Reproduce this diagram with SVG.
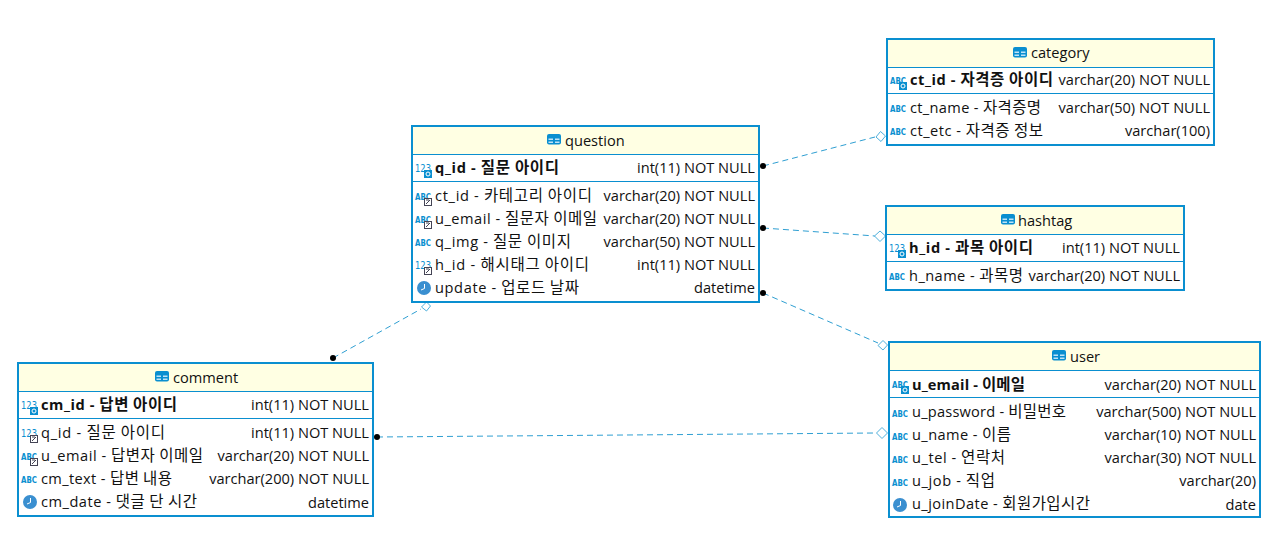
<svg xmlns="http://www.w3.org/2000/svg" width="1285" height="542" viewBox="0 0 1285 542">
<style>
text{font-family:"Open Sans","Noto Sans","Noto Sans CJK KR",sans-serif;font-size:14.6px;fill:#111}
tspan.k{font-family:"Noto Sans CJK KR",sans-serif;font-size:15.500px}
.b{font-weight:700}
.r{text-anchor:end}
.box{fill:#fff;stroke:#0a8fd0;stroke-width:2}
.hd{fill:#ffffe3}
.sep{stroke:#0a8fd0;stroke-width:1;fill:none}
text.ic{font-family:"DejaVu Sans",sans-serif;font-size:9px;font-weight:700;fill:#0a8fd0}
text.n{font-size:10px;font-weight:400}
.conn{fill:none;stroke:#2f9fd2;stroke-width:1;stroke-dasharray:6 4}
.dia{fill:#fff;stroke:#4fb0dc;stroke-width:1}
.dot{fill:#000}
</style>
<defs>
<g id="tbl"><rect x="0" y="0" width="14" height="10.500" rx="2" fill="#0a8fd0"/><path d="M1.500 4.500h4.500v1.500h-4.500zM8 4.500h4.500v1.500h-4.500zM1.500 7.500h4.500v1.500h-4.500zM8 7.500h4.500v1.500h-4.500z" fill="#bfe3f7"/></g>
<g id="abc"><text class="ic" x="0" y="8.500" textLength="16" lengthAdjust="spacingAndGlyphs">ABC</text></g>
<g id="num"><text class="ic n" x="0" y="9" textLength="16" lengthAdjust="spacingAndGlyphs">123</text></g>
<g id="pk"><rect x="9" y="7" width="8" height="8" fill="#0a8fd0"/><circle cx="13" cy="11" r="2" fill="none" stroke="#fff"/></g>
<g id="fk"><rect x="9.500" y="7.500" width="7" height="7" fill="#fff" stroke="#445"/><path d="M11 13l4-4M11 9h3" stroke="#445" fill="none"/></g>
<g id="clk"><circle cx="7" cy="7" r="7" fill="#3a8fd0"/><path d="M7.500 3v4.500l-3.500 1.500" stroke="#fff" fill="none"/></g>
</defs>
<g id="connectors">
<path class="conn" d="M763 166L875 137"/>
<path class="conn" d="M763 228L875 236"/>
<path class="conn" d="M763 293L878 343"/>
<path class="conn" d="M333 358L421 309"/>
<path class="conn" d="M377 437L876 433"/>
<circle class="dot" cx="763" cy="166" r="3"/>
<circle class="dot" cx="763" cy="228" r="3"/>
<circle class="dot" cx="763" cy="293" r="3"/>
<circle class="dot" cx="333" cy="358" r="3"/>
<circle class="dot" cx="377" cy="437" r="3"/>
<path class="dia" d="M880.500 131.500l5 4.500-4.500 5.500-5-4.500z"/>
<path class="dia" d="M880 231l5.500 5-5.500 5.500-5.500-5.500z"/>
<path class="dia" d="M883 340.500l4.500 4.500-4.500 5-5-4.500z"/>
<path class="dia" d="M426.500 302l4 4-4 5-5-4z"/>
<path class="dia" d="M882 427.500l5.500 5.500-5.500 5.500-5.500-5.500z"/>
</g>
<g id="category">
<rect class="box" x="887" y="39" width="327" height="106"/>
<rect class="hd" x="888" y="40" width="325" height="27"/>
<path class="sep" d="M888 67.500H1213M888 93.500H1213"/>
<use href="#tbl" x="1013" y="47"/><text x="1031" y="58">category</text>
<use href="#abc" x="890" y="75"/><use href="#pk" x="890" y="75"/>
<text class="b" x="910" y="85" textLength="143">ct_id - <tspan class="k">자격증 아이디</tspan></text><text class="r" x="1210" y="85">varchar(20) NOT NULL</text>
<use href="#abc" x="890" y="103"/><text x="910" y="113" textLength="131">ct_name - <tspan class="k">자격증명</tspan></text><text class="r" x="1210" y="113">varchar(50) NOT NULL</text>
<use href="#abc" x="890" y="126"/><text x="910" y="136" textLength="133">ct_etc - <tspan class="k">자격증 정보</tspan></text><text class="r" x="1210" y="136">varchar(100)</text>
</g>
<g id="question">
<rect class="box" x="412" y="126" width="347" height="176"/>
<rect class="hd" x="413" y="127" width="345" height="27"/>
<path class="sep" d="M413 154.500H758M413 181.500H758"/>
<use href="#tbl" x="547" y="134"/><text x="565" y="146">question</text>
<use href="#num" x="415" y="163"/><use href="#pk" x="415" y="163"/>
<text class="b" x="435" y="173" textLength="124">q_id - <tspan class="k">질문 아이디</tspan></text><text class="r" x="755" y="173">int(11) NOT NULL</text>
<use href="#abc" x="415" y="191"/><use href="#fk" x="415" y="191"/>
<text x="435" y="201" textLength="157">ct_id - <tspan class="k">카테고리 아이디</tspan></text><text class="r" x="755" y="201">varchar(20) NOT NULL</text>
<use href="#abc" x="415" y="214"/><use href="#fk" x="415" y="214"/>
<text x="435" y="224" textLength="162">u_email - <tspan class="k">질문자 이메일</tspan></text><text class="r" x="755" y="224">varchar(20) NOT NULL</text>
<use href="#abc" x="415" y="237"/>
<text x="435" y="247" textLength="136">q_img - <tspan class="k">질문 이미지</tspan></text><text class="r" x="755" y="247">varchar(50) NOT NULL</text>
<use href="#num" x="415" y="260"/><use href="#fk" x="415" y="260"/>
<text x="435" y="270" textLength="154">h_id - <tspan class="k">해시태그 아이디</tspan></text><text class="r" x="755" y="270">int(11) NOT NULL</text>
<use href="#clk" x="417" y="281"/>
<text x="435" y="293" textLength="144">update - <tspan class="k">업로드 날짜</tspan></text><text class="r" x="755" y="293">datetime</text>
</g>
<g id="hashtag">
<rect class="box" x="886" y="206" width="298" height="84"/>
<rect class="hd" x="887" y="207" width="296" height="27"/>
<path class="sep" d="M887 234.500H1183M887 261.500H1183"/>
<use href="#tbl" x="1001" y="214"/><text x="1018" y="226">hashtag</text>
<use href="#num" x="889" y="243"/><use href="#pk" x="889" y="243"/>
<text class="b" x="909" y="253" textLength="124">h_id - <tspan class="k">과목 아이디</tspan></text><text class="r" x="1180" y="253">int(11) NOT NULL</text>
<use href="#abc" x="889" y="271"/><text x="909" y="281" textLength="114">h_name - <tspan class="k">과목명</tspan></text><text class="r" x="1180" y="281">varchar(20) NOT NULL</text>
</g>
<g id="user">
<rect class="box" x="889" y="342" width="371" height="175"/>
<rect class="hd" x="890" y="343" width="369" height="27"/>
<path class="sep" d="M890 370.500H1259M890 397.500H1259"/>
<use href="#tbl" x="1052" y="350"/><text x="1070" y="362">user</text>
<use href="#abc" x="892" y="379"/><use href="#pk" x="892" y="379"/>
<text class="b" x="912" y="390" textLength="113">u_email - <tspan class="k">이메일</tspan></text><text class="r" x="1256" y="390">varchar(20) NOT NULL</text>
<use href="#abc" x="892" y="408"/><text x="912" y="417" textLength="154">u_password - <tspan class="k">비밀번호</tspan></text><text class="r" x="1256" y="417">varchar(500) NOT NULL</text>
<use href="#abc" x="892" y="431"/><text x="912" y="440" textLength="99">u_name - <tspan class="k">이름</tspan></text><text class="r" x="1256" y="440">varchar(10) NOT NULL</text>
<use href="#abc" x="892" y="454"/><text x="912" y="463" textLength="93">u_tel - <tspan class="k">연락처</tspan></text><text class="r" x="1256" y="463">varchar(30) NOT NULL</text>
<use href="#abc" x="892" y="477"/><text x="912" y="486" textLength="83">u_job - <tspan class="k">직업</tspan></text><text class="r" x="1256" y="486">varchar(20)</text>
<use href="#clk" x="893" y="498"/><text x="912" y="509" textLength="178">u_joinDate - <tspan class="k">회원가입시간</tspan></text><text class="r" x="1256" y="510">date</text>
</g>
<g id="comment">
<rect class="box" x="18" y="363" width="355" height="153"/>
<rect class="hd" x="19" y="364" width="353" height="27"/>
<path class="sep" d="M19 391.500H372M19 418.500H372"/>
<use href="#tbl" x="155" y="371"/><text x="173" y="383">comment</text>
<use href="#num" x="21" y="400"/><use href="#pk" x="21" y="400"/>
<text class="b" x="41" y="410" textLength="136">cm_id - <tspan class="k">답변 아이디</tspan></text><text class="r" x="369" y="410">int(11) NOT NULL</text>
<use href="#num" x="21" y="428"/><use href="#fk" x="21" y="428"/>
<text x="41" y="438" textLength="124">q_id - <tspan class="k">질문 아이디</tspan></text><text class="r" x="369" y="438">int(11) NOT NULL</text>
<use href="#abc" x="21" y="451"/><use href="#fk" x="21" y="451"/>
<text x="41" y="461" textLength="162">u_email - <tspan class="k">답변자 이메일</tspan></text><text class="r" x="369" y="461">varchar(20) NOT NULL</text>
<use href="#abc" x="21" y="474"/>
<text x="41" y="484" textLength="131">cm_text - <tspan class="k">답변 내용</tspan></text><text class="r" x="369" y="484">varchar(200) NOT NULL</text>
<use href="#clk" x="23" y="495"/>
<text x="41" y="507" textLength="156">cm_date - <tspan class="k">댓글 단 시간</tspan></text><text class="r" x="369" y="508">datetime</text>
</g>
</svg>
